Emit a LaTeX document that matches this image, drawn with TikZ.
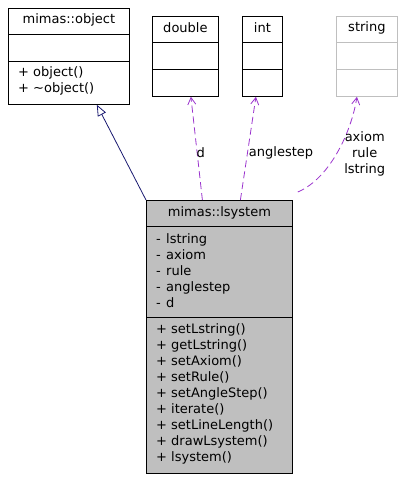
\documentclass[tikz,border=0pt]{standalone}
\usepackage{fontspec}
\setmainfont{DejaVu Sans}
\usetikzlibrary{arrows.meta, positioning}
\definecolor{edgepurple}{HTML}{9A32CD}
\definecolor{inheritblue}{HTML}{191970}
\definecolor{boxgray}{HTML}{BFBFBF}
\newcommand{\pub}[1]{\makebox[15pt][l]{+}#1}
\newcommand{\priv}[1]{\makebox[10pt][l]{-}#1}

\begin{document}
\begin{tikzpicture}[x=1pt,y=-1pt,
    every node/.style={font=\fontsize{13}{16}\selectfont},
    classbox/.style={draw=black, line width=0.8pt, inner sep=0pt, anchor=north west},
    members/.style={anchor=west, inner sep=0pt, align=left},
    uses/.style={draw=edgepurple, line width=0.8pt, dash pattern=on 7pt off 4pt, -{Straight Barb[length=7pt,width=8pt]}},
    inherit/.style={draw=inheritblue, line width=0.8pt, -{Triangle[open,length=11pt,width=9pt]}},
    elabel/.style={inner sep=1pt, anchor=west}]
    \useasboundingbox (0,0) rectangle (418,479);

    % base class
    \node[classbox, minimum width=121pt, minimum height=96pt] (object) at (8,8) {};
    \node (objname) at ([yshift=-12pt]object.north) {mimas::object};
    \draw ([yshift=-26pt]object.north west) -- ([yshift=-26pt]object.north east);
    \draw ([yshift=-53pt]object.north west) -- ([yshift=-53pt]object.north east);
    \node[members] (objops) at ([shift={(10pt,-73pt)}]object.north west) {\pub{object()}\\\pub{\textasciitilde object()}};

    % member types
    \node[classbox, minimum width=66pt, minimum height=80pt] (dbl) at (152,16) {};
    \node (dblname) at ([yshift=-12pt]dbl.north) {double};
    \node[classbox, minimum width=40pt, minimum height=80pt] (int) at (242,16) {};
    \node (intname) at ([yshift=-12pt]int.north) {int};
    \node[classbox, draw=boxgray, minimum width=61pt, minimum height=80pt] (str) at (336,16) {};
    \node (strname) at ([yshift=-12pt]str.north) {string};
    \foreach \c/\col in {dbl/black, int/black, str/boxgray} {
        \draw[\col] ([yshift=-26pt]\c.north west) -- ([yshift=-26pt]\c.north east);
        \draw[\col] ([yshift=-53pt]\c.north west) -- ([yshift=-53pt]\c.north east);
    }

    % lsystem
    \node[classbox, fill=boxgray, minimum width=146pt, minimum height=273pt] (lsys) at (146,200) {};
    \node (lsysname) at ([yshift=-13pt]lsys.north) {mimas::lsystem};
    \draw ([yshift=-26.5pt]lsys.north west) -- ([yshift=-26.5pt]lsys.north east);
    \draw ([yshift=-117pt]lsys.north west) -- ([yshift=-117pt]lsys.north east);
    \node[members] (lsysattr) at ([shift={(10pt,-71pt)}]lsys.north west)
        {\priv{lstring}\\\priv{axiom}\\\priv{rule}\\\priv{anglestep}\\\priv{d}};
    \node[members] (lsysops) at ([shift={(10pt,-194pt)}]lsys.north west)
        {\pub{setLstring()}\\\pub{getLstring()}\\\pub{setAxiom()}\\\pub{setRule()}\\\pub{setAngleStep()}\\
         \pub{iterate()}\\\pub{setLineLength()}\\\pub{drawLsystem()}\\\pub{lsystem()}};

    % edges
    \path[inherit] (lsys.north west) -- (object.-60);
    \path[uses] ([xshift=-17pt]lsys.north) -- node[elabel, pos=0.46, xshift=-2pt] {d} ([xshift=5.5pt]dbl.south);
    \path[uses] ([xshift=21pt]lsys.north) -- node[elabel, pos=0.46] {anglestep} ([xshift=-6.5pt]int.south);
    \path[uses] ([shift={(5pt,8pt)}]lsys.north east) .. controls +(33,-14) and +(-5,33) .. ([xshift=-10pt]str.south)
        node[elabel, align=center, pos=0.5, xshift=5pt, yshift=-2pt] {axiom\\rule\\lstring};
\end{tikzpicture}
\end{document}
